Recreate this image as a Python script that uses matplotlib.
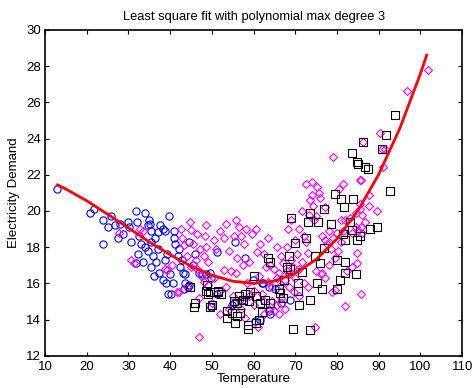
import numpy as np
import matplotlib
matplotlib.use("Agg")
import matplotlib.pyplot as plt

# =====================================================
# Style (MATLAB-like look)
# =====================================================

plt.rcParams.update({
    'font.family': ['Liberation Sans', 'DejaVu Sans'],
    'font.size': 9.5,
    'axes.linewidth': 1.2,
    'xtick.direction': 'in',
    'ytick.direction': 'in',
    'xtick.top': True,
    'ytick.right': True,
    'xtick.major.size': 3,
    'ytick.major.size': 3,
    'xtick.major.width': 0.8,
    'ytick.major.width': 0.8,
})

# =====================================================
# Data
# =====================================================

# blue circles: low temperatures
temp_b = [12.8, 20.8, 21.8, 23.8, 25.9, 25.0, 26.8, 24.0, 28.0, 29.9, 30.2, 28.8,
          31.7, 32.0, 34.0, 34.9, 35.1, 34.7, 35.3, 32.5, 33.0, 32.4, 31.9, 33.6,
          33.9, 36.3, 37.6, 38.3, 37.2, 38.7, 39.7, 35.4, 34.6, 36.0, 36.6, 35.3,
          36.1, 37.3, 38.2, 38.8, 39.3, 39.0, 40.0, 39.5, 40.3, 40.8, 41.1, 42.0,
          41.8, 42.8, 42.3, 43.0, 43.6, 43.5, 44.2, 44.6, 43.2, 46.8, 47.6, 48.5,
          49.6, 49.9, 51.2, 55.6, 58.0, 59.8, 61.9, 62.3, 63.6, 65.2, 49.9, 51.2,
          54.8, 55.3, 57.2, 63.6, 64.0, 60.4, 61.6, 66.6, 68.7, 45.5, 46.0, 44.5,
          41.0, 30.5, 27.5, 40.7, 37.0]
dem_b = [21.2, 19.9, 20.1, 19.5, 19.7, 19.1, 19.2, 18.2, 19.3, 19.4, 19.1, 18.7,
         20.0, 19.4, 19.9, 19.5, 19.3, 19.2, 18.9, 18.6, 18.2, 17.6, 17.1, 17.2,
         18.0, 18.5, 19.2, 19.0, 18.85, 18.9, 19.7, 18.3, 17.8, 17.5, 17.2, 16.9,
         16.4, 16.6, 16.2, 17.3, 17.6, 16.0, 16.5, 15.4, 15.4, 18.5, 18.2, 17.9,
         17.5, 17.3, 16.9, 16.6, 16.5, 16.0, 15.8, 15.9, 15.7, 16.6, 16.5, 16.5,
         16.6, 16.3, 17.75, 18.3, 17.4, 16.2, 16.0, 16.0, 15.8, 15.7, 14.7, 15.4,
         14.8, 14.9, 15.1, 14.5, 14.3, 13.9, 14.0, 14.9, 15.1, 17.0, 17.6, 18.3,
         18.9, 18.3, 18.5, 16.0, 17.9]

# magenta diamonds: middle temperatures
temp_m = [27.7, 30.6, 32.8, 33.4, 31.4, 38.8, 39.2, 41.7, 42.0, 46.8, 44.8, 44.9,
          46.4, 48.4, 42.8, 43.2, 45.5, 47.2, 48.6, 44.0, 46.2, 48.0, 49.0, 45.0,
          46.5, 47.5, 48.0, 49.0, 50.5, 51.0, 52.0, 53.0, 54.0, 55.2, 56.5, 57.0,
          58.2, 57.8, 59.5, 56.0, 57.5, 59.0, 60.8, 61.5, 62.5, 52.8, 54.6, 55.8,
          50.5, 52.0, 53.5, 56.8, 58.5, 60.0, 61.2, 62.0, 63.0, 64.0, 65.0, 66.0,
          67.0, 68.0, 69.0, 63.5, 64.5, 65.5, 66.5, 67.5, 68.5, 70.0, 64.3, 65.5,
          66.5, 64.8, 62.5, 63.6, 52.0, 54.0, 58.0, 60.0, 61.0, 69.7, 70.8, 71.5,
          72.0, 73.0, 70.0, 71.0, 72.0, 72.5, 73.0, 70.5, 73.5, 74.3, 73.2, 74.5,
          75.0, 75.3, 75.6, 76.0, 74.0, 76.5, 77.5, 77.0, 78.0, 79.0, 80.0, 78.5,
          80.2, 81.0, 81.5, 79.5, 81.0, 82.0, 83.0, 75.0, 76.2, 77.0, 76.5, 78.0,
          79.1, 81.5, 85.5, 84.5, 85.5, 86.0, 84.5, 85.0, 86.0, 83.5, 84.7, 84.7,
          82.5, 83.5, 78.7, 79.5, 81.9, 85.7, 74.8, 86.3, 90.3, 90.7, 91.5, 91.1,
          85.8, 87.7, 85.5, 87.7, 89.5, 86.7, 85.8, 96.7, 101.9, 42.5, 40.5, 44.0,
          47.0, 50.0, 55.0, 57.0, 59.0, 62.5, 66.0, 67.5, 68.5, 69.5, 71.0, 48.5,
          53.5, 55.8, 60.5, 63.5, 65.5, 68.0, 69.0, 71.5, 72.5, 74.0, 77.0, 80.5,
          68.2, 66.5]
dem_m = [18.8, 17.3, 19.0, 18.9, 17.1, 16.8, 16.75, 15.5, 15.5, 13.05, 19.4, 18.95,
         18.7, 18.6, 18.5, 18.1, 18.2, 17.9, 18.0, 17.5, 17.3, 17.5, 17.2, 16.9,
         16.8, 16.4, 16.1, 15.9, 18.4, 17.9, 18.9, 18.5, 17.8, 18.6, 19.1, 18.6,
         19.0, 18.2, 18.7, 17.4, 17.0, 17.2, 17.75, 18.2, 17.6, 16.75, 16.7, 16.6,
         16.3, 15.6, 15.8, 15.1, 16.0, 15.6, 16.4, 15.4, 16.9, 17.0, 16.8, 16.6,
         17.1, 16.7, 17.3, 16.1, 15.8, 16.3, 15.9, 16.2, 15.8, 16.3, 15.0, 14.8,
         15.2, 14.5, 14.3, 14.6, 14.3, 14.6, 14.1, 14.8, 13.6, 15.5, 16.8, 17.2,
         16.0, 15.8, 18.4, 19.0, 18.6, 18.3, 17.7, 17.6, 20.6, 20.3, 19.8, 19.5,
         19.7, 21.3, 21.0, 20.7, 21.6, 18.6, 18.2, 18.4, 18.9, 18.5, 18.8, 17.9,
         17.8, 18.3, 18.9, 17.4, 19.5, 19.5, 19.6, 16.7, 16.5, 16.3, 16.6, 17.0,
         23.0, 21.5, 21.7, 19.9, 20.1, 19.8, 19.1, 18.9, 18.8, 18.8, 17.7, 17.1,
         16.7, 16.9, 15.5, 15.65, 14.75, 15.4, 13.6, 23.8, 24.3, 23.4, 23.4, 22.4,
         21.7, 20.9, 20.4, 20.3, 20.0, 19.4, 19.1, 26.6, 27.8, 19.0, 17.0, 15.8,
         15.2, 14.9, 15.3, 14.6, 15.3, 15.0, 14.3, 14.6, 16.5, 16.9, 15.3, 19.2,
         19.3, 19.5, 19.0, 18.5, 18.0, 18.0, 19.5, 20.0, 21.5, 20.9, 20.2, 21.2,
         19.0, 17.5]

# black squares: higher temperatures
temp_k = [44.8, 46.0, 45.6, 48.5, 49.0, 48.8, 49.6, 49.6, 50.0, 51.5, 52.3, 51.5,
          53.7, 54.8, 53.7, 55.4, 56.0, 55.6, 56.0, 56.8, 56.5, 57.5, 58.0, 58.6,
          58.6, 58.9, 59.2, 60.0, 60.6, 61.5, 62.0, 61.3, 60.5, 62.8, 63.5, 64.0,
          64.0, 66.4, 66.0, 67.0, 67.4, 68.0, 68.5, 68.7, 69.0, 69.5, 70.0, 70.6,
          70.6, 71.0, 71.6, 72.6, 73.5, 73.5, 73.5, 73.1, 74.7, 75.5, 75.9, 75.3,
          76.3, 76.8, 76.8, 78.5, 79.5, 80.9, 80.0, 80.7, 80.0, 81.6, 81.9, 81.9,
          81.5, 82.0, 83.1, 83.5, 83.6, 83.9, 84.6, 84.7, 85.1, 84.9, 85.5, 86.3,
          86.7, 87.5, 87.8, 89.7, 90.7, 91.8, 92.6, 94.0]
dem_k = [15.8, 14.9, 14.7, 15.6, 15.4, 15.9, 15.55, 14.7, 14.8, 15.6, 15.4, 15.5,
         14.5, 14.35, 14.1, 15.0, 14.9, 13.8, 14.2, 14.35, 15.3, 15.1, 15.4, 13.7,
         13.5, 15.0, 15.55, 16.4, 15.3, 14.9, 14.4, 14.0, 13.8, 15.1, 17.4, 17.2,
         14.9, 15.45, 15.7, 15.2, 16.2, 16.9, 17.5, 16.8, 19.6, 13.5, 18.25, 16.0,
         15.6, 14.8, 16.65, 18.5, 13.45, 15.1, 19.9, 19.4, 17.5, 19.4, 17.1, 16.0,
         15.7, 20.1, 17.95, 19.3, 20.95, 20.65, 17.3, 16.2, 15.7, 20.2, 17.2, 16.55,
         18.7, 18.4, 19.4, 18.95, 23.2, 20.65, 16.5, 22.7, 22.6, 18.4, 18.6, 23.8,
         22.4, 22.3, 19.0, 19.1, 23.4, 24.2, 21.1, 25.3]

# fitted cubic
fit_temp = [13, 15, 20, 25, 30, 35, 40, 45, 50, 55, 60, 65, 70, 75, 80, 85, 90, 95, 100, 101.5]
fit_dem = [21.44, 21.21, 20.56, 19.82, 19.06, 18.29, 17.58, 16.95, 16.45, 16.12,
           16.0, 16.13, 16.56, 17.32, 18.46, 20.01, 22.02, 24.53, 27.58, 28.6]

# =====================================================
# Plot
# =====================================================

fig = plt.figure(figsize=(4.74, 3.88), dpi=100)
ax = fig.add_axes([0.095, 0.083, 0.880, 0.840])

mk = dict(linestyle='none', markersize=5.2, markerfacecolor='none', markeredgewidth=0.8)

ax.plot(temp_b, dem_b, marker='o', color=(0, 0, 1), **mk)
ax.plot(temp_m, dem_m, marker='D', color=(1, 0, 1), **dict(mk, markersize=4.3))
ax.plot(temp_k, dem_k, marker='s', color='black', **mk)

ax.plot(fit_temp, fit_dem, color=(1, 0, 0), lw=2.0)

# =====================================================
# Axes
# =====================================================

ax.set_xlim(10, 110)
ax.set_ylim(12, 30)
ax.set_xticks(np.arange(10, 111, 10))
ax.set_yticks(np.arange(12, 31, 2))
ax.tick_params(axis='x', pad=4)
ax.tick_params(axis='y', pad=3)

ax.set_title("Least square fit with polynomial max degree 3", fontsize=9.3, pad=7)
ax.set_xlabel("Temperature", labelpad=0)
ax.set_ylabel("Electricity Demand", labelpad=4)

fig.savefig("out.png", dpi=100)
